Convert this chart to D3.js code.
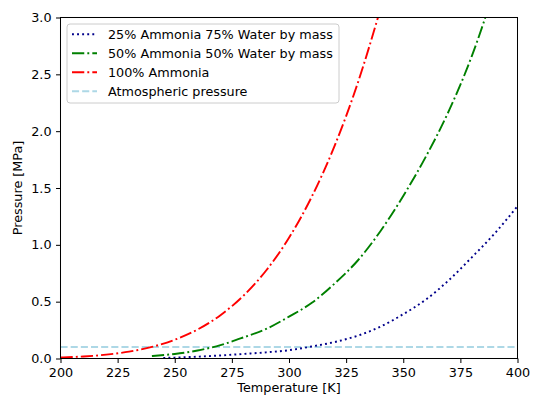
<!DOCTYPE html>
<html>
<head>
<meta charset="utf-8">
<script src="https://cdn.jsdelivr.net/npm/d3@7"></script>
<style>
  body { margin: 0; background: #fff; }
  svg { display: block; font-family: "DejaVu Sans", sans-serif; }
</style>
</head>
<body>
<svg id="chart" width="535" height="396"></svg>
<script>
// temperatures in K, pressures in MPa
const tempsNH3 = [200, 210, 220, 230, 240, 250, 260, 270, 280, 290, 300, 310, 320, 330, 340];
const pressNH3 = [0.0087, 0.0177, 0.0338, 0.0604, 0.102, 0.165, 0.255, 0.381, 0.551, 0.774, 1.062, 1.425, 1.873, 2.418, 3.073];

const temps50 = [240, 250, 260, 270, 280, 290, 300, 310, 320, 330, 340, 350, 360, 370, 380, 390];
const press50 = [0.022, 0.040, 0.070, 0.118, 0.185, 0.26, 0.368, 0.49, 0.66, 0.86, 1.12, 1.43, 1.78, 2.18, 2.66, 3.25];

const temps25 = [245, 250, 260, 270, 280, 290, 300, 310, 320, 330, 340, 350, 360, 370, 380, 390, 400];
const press25 = [0.005, 0.008, 0.016, 0.027, 0.040, 0.054, 0.073, 0.106, 0.145, 0.20, 0.28, 0.39, 0.52, 0.69, 0.89, 1.10, 1.34];

const atmPressure = 0.101325;
const xTicks = [200, 225, 250, 275, 300, 325, 350, 375, 400];
const yTicks = [0.0, 0.5, 1.0, 1.5, 2.0, 2.5, 3.0];

const seriesNames = ["25% Ammonia 75% Water by mass", "50% Ammonia 50% Water by mass", "100% Ammonia", "Atmospheric pressure"];

const pt = 92 / 72; // matplotlib points -> px
const svg = d3.select("#chart");
const margin = {left: 60.5, right: 17.5, top: 17.5, bottom: 37.5};
const W = 535, H = 396;

const x = d3.scaleLinear().domain([200, 400]).range([margin.left, W - margin.right]);
const y = d3.scaleLinear().domain([0, 3]).range([H - margin.bottom, margin.top]);

svg.append("defs").append("clipPath").attr("id", "clip")
  .append("rect")
  .attr("x", x(200)).attr("y", y(3))
  .attr("width", x(400) - x(200)).attr("height", y(0) - y(3));

const line = d3.line().x(d => x(d[0])).y(d => y(d[1])).curve(d3.curveMonotoneX);

const series = [
  {name: seriesNames[0], t: temps25, p: press25, color: "#00008b", dash: [1.5 * pt, 2.475 * pt]},
  {name: seriesNames[1], t: temps50, p: press50, color: "#008000", dash: [9.6 * pt, 2.4 * pt, 1.5 * pt, 2.4 * pt]},
  {name: seriesNames[2], t: tempsNH3, p: pressNH3, color: "#ff0000", dash: [9.6 * pt, 2.4 * pt, 1.5 * pt, 2.4 * pt]},
  {name: seriesNames[3], t: [200, 400], p: [atmPressure, atmPressure], color: "#add8e6", dash: [5.55 * pt, 2.4 * pt]}
];

const plot = svg.append("g").attr("clip-path", "url(#clip)");

// draw atmospheric line first, then curves on top
[series[3], series[0], series[1], series[2]].forEach(s => {
  plot.append("path")
    .datum(s.t.map((t, i) => [t, s.p[i]]))
    .attr("d", line)
    .attr("fill", "none")
    .attr("stroke", s.color)
    .attr("stroke-width", 1.5 * pt)
    .attr("stroke-dasharray", s.dash.join(","));
});

// axes
const xAxis = svg.append("g")
  .attr("transform", `translate(0,${y(0)})`)
  .call(d3.axisBottom(x).tickValues(xTicks).tickSize(3.5 * pt).tickPadding(3.5 * pt).tickFormat(d3.format("d")));
const yAxis = svg.append("g")
  .attr("transform", `translate(${x(200)},0)`)
  .call(d3.axisLeft(y).tickValues(yTicks).tickSize(3.5 * pt).tickPadding(3.5 * pt).tickFormat(d3.format(".1f")));

[xAxis, yAxis].forEach(a => {
  a.select(".domain").remove();
  a.selectAll("line").attr("stroke", "#000").attr("stroke-width", 0.8 * pt);
  a.selectAll("text").attr("font-size", 10 * pt).attr("fill", "#000")
    .attr("font-family", "DejaVu Sans");
});

// frame
svg.append("rect")
  .attr("x", x(200)).attr("y", y(3))
  .attr("width", x(400) - x(200)).attr("height", y(0) - y(3))
  .attr("fill", "none").attr("stroke", "#000").attr("stroke-width", 0.8 * pt);

// axis labels
svg.append("text")
  .attr("x", (x(200) + x(400)) / 2).attr("y", 392)
  .attr("text-anchor", "middle").attr("font-size", 10 * pt)
  .text("Temperature [K]");
svg.append("text")
  .attr("transform", `translate(22,${(y(0) + y(3)) / 2}) rotate(-90)`)
  .attr("text-anchor", "middle").attr("font-size", 10 * pt)
  .text("Pressure [MPa]");

// legend
const leg = svg.append("g").attr("transform", "translate(67,24)");
leg.append("rect")
  .attr("width", 272).attr("height", 79).attr("rx", 3)
  .attr("fill", "#fff").attr("fill-opacity", 0.8)
  .attr("stroke", "#cccccc").attr("stroke-width", 1);

series.forEach((s, i) => {
  const cy = 10.3 + i * 19;
  leg.append("line")
    .attr("x1", 5).attr("x2", 30).attr("y1", cy).attr("y2", cy)
    .attr("stroke", s.color).attr("stroke-width", 1.5 * pt)
    .attr("stroke-dasharray", s.dash.join(","));
  leg.append("text")
    .attr("x", 41).attr("y", cy).attr("dy", "0.36em")
    .attr("font-size", 10 * pt)
    .text(s.name);
});
</script>
</body>
</html>
